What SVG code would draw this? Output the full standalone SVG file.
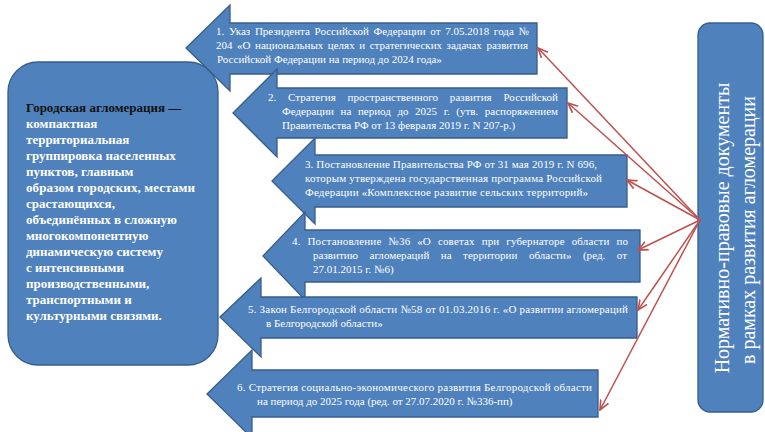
<svg xmlns="http://www.w3.org/2000/svg" width="765" height="432" viewBox="0 0 765 432">
<defs>
<style>
.shape{fill:#4F81BD;stroke:#385D8A;stroke-width:1.3;stroke-linejoin:miter}
.at{font-size:11px;fill:#ffffff}
.lt{font-size:13px;font-weight:bold;fill:#ffffff}
.rt{font-size:20px;fill:#ffffff}
.con{stroke:#C0504D;stroke-width:1.5;fill:none}
</style>
<marker id="ah" viewBox="0 0 10 10" refX="9" refY="5" markerWidth="11" markerHeight="11" markerUnits="userSpaceOnUse" orient="auto">
<path d="M0,1 L9,5 L0,9" fill="none" stroke="#C0504D" stroke-width="1.5"/>
</marker>
</defs>
<rect width="765" height="432" fill="#ffffff"/>

<g font-family="'Liberation Serif', 'DejaVu Serif', serif">
<g id="doc1">
<polygon class="shape" points="186,48 230,5 230,23 537,23 537,74 230,74 230,91"/>
<text class="at"><tspan x="216" y="35" word-spacing="1.9" textLength="313" lengthAdjust="spacing">1. Указ Президента Российской Федерации от 7.05.2018 года №</tspan><tspan x="216" y="49" word-spacing="1.8" textLength="312" lengthAdjust="spacing">204 «О национальных целях и стратегических задачах развития</tspan><tspan x="217" y="63">Российской Федерации на период до 2024 года»</tspan></text>
</g>

<g id="doc2">
<polygon class="shape" points="233,113 277,69 277,88 567,88 567,138 277,138 277,157"/>
<text class="at"><tspan x="268" y="101" word-spacing="9" textLength="290" lengthAdjust="spacing">2. Стратегия пространственного развития Российской</tspan><tspan x="282" y="115" word-spacing="3.8" textLength="276" lengthAdjust="spacing">Федерации на период до 2025 г. (утв. распоряжением</tspan><tspan x="282" y="129">Правительства РФ от 13 февраля 2019 г. N 207-р.)</tspan></text>
</g>

<g id="doc3">
<polygon class="shape" points="272,181 315,138 315,155 627,155 627,207 315,207 315,224"/>
<text class="at"><tspan x="305" y="168" textLength="292" lengthAdjust="spacing">3. Постановление Правительства РФ от 31 мая 2019 г. N 696,</tspan><tspan x="305" y="182" textLength="297" lengthAdjust="spacing">которым утверждена государственная программа Российской</tspan><tspan x="305" y="196" textLength="283" lengthAdjust="spacing">Федерации «Комплексное развитие сельских территорий»</tspan></text>
</g>

<g id="doc4">
<polygon class="shape" points="263,256 305,212 305,230 640,230 640,282 305,282 305,300"/>
<text class="at"><tspan x="292" y="245" word-spacing="4" textLength="336" lengthAdjust="spacing">4. Постановление №36 «О советах при губернаторе области по</tspan><tspan x="313" y="259" word-spacing="8.7" textLength="314" lengthAdjust="spacing">развитию агломераций на территории области» (ред. от</tspan><tspan x="313" y="273">27.01.2015 г. №6)</tspan></text>
</g>

<g id="doc5">
<polygon class="shape" points="220,317 261,278 261,297 637,297 637,338 261,338 261,357"/>
<text class="at"><tspan x="248" y="313" textLength="380" lengthAdjust="spacing">5. Закон Белгородской области №58 от 01.03.2016 г. «О развитии агломераций</tspan><tspan x="266" y="327">в Белгородской области»</tspan></text>
</g>

<g id="doc6">
<polygon class="shape" points="207,394 252,350 252,370 598,370 598,417 252,417 252,438"/>
<text class="at"><tspan x="237" y="391" textLength="355" lengthAdjust="spacing">6. Стратегия социально-экономического развития Белгородской области</tspan><tspan x="257" y="405">на период до 2025 года (ред. от 27.07.2020 г. №336-пп)</tspan></text>
</g>

<g id="definition">
<rect class="shape" x="8" y="62" width="210" height="303" rx="30" ry="30"/>
<text class="lt"><tspan x="26" y="112" fill="#111111">Городская агломерация —</tspan><tspan x="26" y="128">компактная</tspan><tspan x="26" y="144">территориальная</tspan><tspan x="26" y="160">группировка населенных</tspan><tspan x="26" y="176">пунктов, главным</tspan><tspan x="26" y="192" textLength="169" lengthAdjust="spacing">образом городских, местами</tspan><tspan x="26" y="208">срастающихся,</tspan><tspan x="26" y="224">объединённых в сложную</tspan><tspan x="26" y="240">многокомпонентную</tspan><tspan x="26" y="256">динамическую систему</tspan><tspan x="26" y="272">с интенсивными</tspan><tspan x="26" y="288">производственными,</tspan><tspan x="26" y="304">транспортными и</tspan><tspan x="26" y="320">культурными связями.</tspan></text>
</g>

<g id="documents">
<rect class="shape" x="698" y="23" width="65" height="389" rx="12" ry="12"/>
<text class="rt" text-anchor="middle" transform="translate(729,228) rotate(-90)">Нормативно-правовые документы</text>
<text class="rt" text-anchor="middle" transform="translate(755,230) rotate(-90)">в  рамках развития агломерации</text>
</g>
</g>

<g id="connectors">
<line class="con" x1="700" y1="220" x2="538" y2="48" marker-end="url(#ah)"/>
<line class="con" x1="700" y1="220" x2="568" y2="103" marker-end="url(#ah)"/>
<line class="con" x1="700" y1="220" x2="627" y2="180" marker-end="url(#ah)"/>
<line class="con" x1="700" y1="220" x2="638" y2="250" marker-end="url(#ah)"/>
<line class="con" x1="700" y1="220" x2="638" y2="310" marker-end="url(#ah)"/>
<line class="con" x1="700" y1="220" x2="600" y2="410" marker-end="url(#ah)"/>
</g>
</svg>
